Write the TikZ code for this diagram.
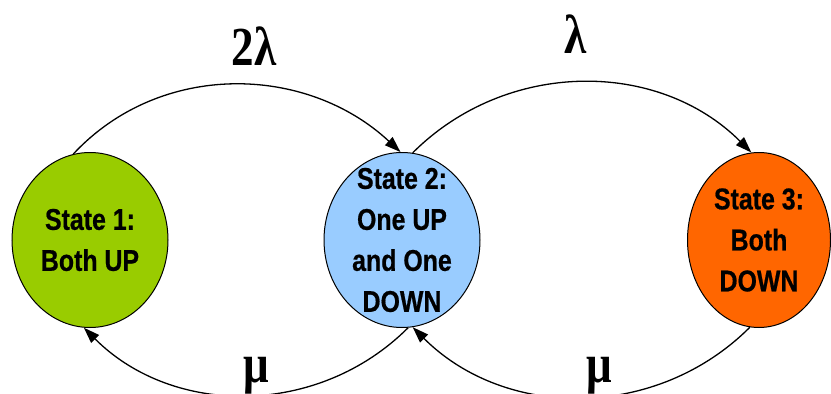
\documentclass[tikz,border=0pt]{standalone}
\usepackage{fontspec}
\setmainfont{Liberation Serif}
\newfontfamily\statefont[FakeStretch=0.83, FakeBold=0.6]{Liberation Sans}
\newfontfamily\ratefont[FakeStretch=0.82]{Liberation Serif}
\usetikzlibrary{arrows.meta,shapes.geometric}

\definecolor{upgreen}{HTML}{99CC00}
\definecolor{halfblue}{HTML}{99CCFF}
\definecolor{downorange}{HTML}{FF6600}

\begin{document}
\begin{tikzpicture}[x=1pt, y=-1pt,
  state/.style={draw, ellipse, line width=1pt, minimum width=156pt, minimum height=175pt, inner sep=-30pt, align=center, font=\statefont\bfseries\fontsize{30}{41}\selectfont},
  rate/.style={anchor=base, font=\ratefont\bfseries\fontsize{55}{55}\selectfont},
  arrow/.style={-{Triangle[length=16pt,width=11pt]}, line width=1.3pt}
]
\useasboundingbox (0,0) rectangle (831,394);

% Markov chain of the two-unit repairable system.
\node[state, fill=upgreen] (both_up) at (90,240) {State 1:\\Both UP};
\node[state, fill=halfblue] (one_up) at (402,240) {State 2:\\One UP\\and One\\DOWN};
\node[state, fill=downorange, minimum width=143pt] (both_down) at (759,240) {State 3:\\Both\\DOWN};

\node[rate] (fail_two) at (254,65) {2λ};
\node[rate] (fail_one) at (576,53) {λ};
\node[rate] (repair_one) at (256,382) {μ};
\node[rate] (repair_two) at (599,382) {μ};

\draw[arrow] (both_up.101) to[out=47, in=137] (one_up.91);
\draw[arrow] (one_up.83) to[out=45, in=135] (both_down.95);
\draw[arrow] (one_up.-86) to[out=225, in=-45] (both_up.-94);
\draw[arrow] (both_down.-96) to[out=225, in=-45] (one_up.-83);
\end{tikzpicture}
\end{document}
